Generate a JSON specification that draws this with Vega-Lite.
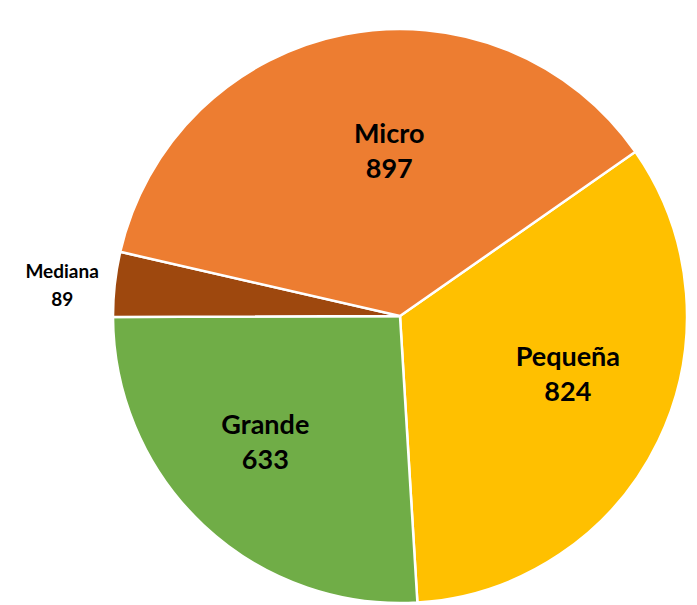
{
  "$schema": "https://vega.github.io/schema/vega-lite/v6.json",
  "width": 594,
  "height": 578,
  "autosize": "none",
  "padding": {"left": 103, "top": 27, "right": 0, "bottom": 0},
  "background": "white",
  "title": {
    "text": "Número de empresas que reportan al ISOC (%)",
    "anchor": "start",
    "frame": "group",
    "dx": -36,
    "offset": -32,
    "baseline": "alphabetic",
    "font": "Lato",
    "fontSize": 22,
    "fontWeight": "bold",
    "color": "black"
  },
  "data": {
    "values": [
      {"tamano": "Pequeña", "empresas": 824, "orden": 1},
      {"tamano": "Grande", "empresas": 633, "orden": 2},
      {"tamano": "Mediana", "empresas": 89, "orden": 3},
      {"tamano": "Micro", "empresas": 897, "orden": 4}
    ]
  },
  "transform": [
    {"calculate": "datum.tamano + '\\n' + datum.empresas", "as": "etiqueta"}
  ],
  "encoding": {
    "theta": {"field": "empresas", "type": "quantitative", "stack": true, "scale": {"range": [0.9617, 7.2449]}},
    "order": {"field": "orden", "type": "quantitative"}
  },
  "layer": [
    {
      "mark": {"type": "arc", "outerRadius": 287, "stroke": "white", "strokeWidth": 2.5},
      "encoding": {
        "color": {
          "field": "tamano",
          "type": "nominal",
          "scale": {"domain": ["Pequeña", "Grande", "Mediana", "Micro"], "range": ["#FFC000", "#70AD47", "#9E480E", "#ED7D31"]},
          "legend": null
        }
      }
    },
    {
      "mark": {"type": "text", "radius": 172, "dx": 22, "dy": -12, "font": "Lato", "fontSize": 27, "fontWeight": "bold", "lineBreak": "\n", "lineHeight": 35, "baseline": "middle", "align": "center", "color": "black"},
      "encoding": {"text": {"condition": {"test": "datum.tamano == 'Micro'", "field": "etiqueta"}, "value": ""}}
    },
    {
      "mark": {"type": "text", "radius": 172, "dx": 13, "dy": -33, "font": "Lato", "fontSize": 27, "fontWeight": "bold", "lineBreak": "\n", "lineHeight": 35, "baseline": "middle", "align": "center", "color": "black"},
      "encoding": {"text": {"condition": {"test": "datum.tamano == 'Pequeña'", "field": "etiqueta"}, "value": ""}}
    },
    {
      "mark": {"type": "text", "radius": 172, "dx": -17, "dy": -15, "font": "Lato", "fontSize": 27, "fontWeight": "bold", "lineBreak": "\n", "lineHeight": 35, "baseline": "middle", "align": "center", "color": "black"},
      "encoding": {"text": {"condition": {"test": "datum.tamano == 'Grande'", "field": "etiqueta"}, "value": ""}}
    },
    {
      "mark": {"type": "text", "radius": 348, "dx": 8, "dy": -5, "font": "Lato", "fontSize": 19, "fontWeight": "bold", "lineBreak": "\n", "lineHeight": 28, "baseline": "middle", "align": "center", "color": "black"},
      "encoding": {"text": {"condition": {"test": "datum.tamano == 'Mediana'", "field": "etiqueta"}, "value": ""}}
    }
  ]
}
